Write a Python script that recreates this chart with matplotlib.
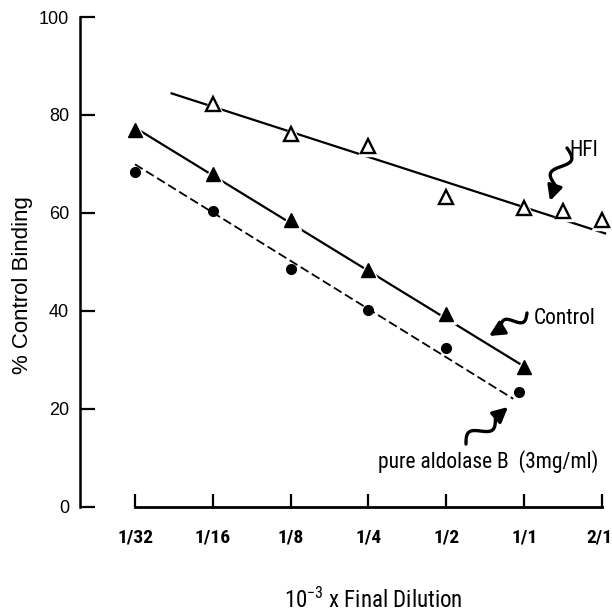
import numpy as np
import matplotlib
matplotlib.use("Agg")
import matplotlib.pyplot as plt
from matplotlib import font_manager
from matplotlib.font_manager import FontProperties
from matplotlib.patches import FancyArrowPatch
from matplotlib.path import Path
from matplotlib.transforms import Affine2D, ScaledTranslation

# ---------------- data (x in log2 of dilution: 1/32 -> -5 ... 2/1 -> 1) -------------
tick_pos = [-5, -4, -3, -2, -1, 0, 1]
tick_labels = ["1/32", "1/16", "1/8", "1/4", "1/2", "1/1", "2/1"]

hfi_x = [-4, -3, -2, -1, 0, 0.5, 1]
hfi_y = [82.3, 76.2, 73.7, 63.3, 61.0, 60.3, 58.5]
hfi_fit_x = [-4.53, 1.04]
hfi_fit_y = [84.4, 55.8]

control_x = [-5, -4, -3, -2, -1, 0]
control_y = [77.0, 68.0, 58.6, 48.3, 39.4, 28.5]
control_fit_x = [-5, 0]
control_fit_y = [77.4, 28.6]

aldo_x = [-5, -4, -3, -2, -1, -0.07]
aldo_y = [68.4, 60.3, 48.6, 40.2, 32.4, 23.4]
aldo_fit_x = [-5, -0.14]
aldo_fit_y = [69.9, 22.0]

yticks = [0, 20, 40, 60, 80, 100]

# ---------------- fonts -----------------------------------------------------
names = {f.name for f in font_manager.fontManager.ttflist}
REG = "Liberation Sans" if "Liberation Sans" in names else "DejaVu Sans"
plt.rcParams["font.family"] = [REG, "DejaVu Sans"]


def find_cond(bold):
    prefs = ["RobotoCondensed", "Roboto_Condensed", "OpenSans_Condensed",
             "OpenSansCondensed", "LiberationSansNarrow", "DejaVuSansCondensed"]
    files = [f.fname for f in font_manager.fontManager.ttflist]
    for p in prefs:
        cands = [fn for fn in files if p.lower() in fn.replace("-", "").replace(" ", "").lower()
                 or p.lower() in fn.lower()]
        cands = [c for c in cands if "italic" not in c.lower() and "oblique" not in c.lower()]
        if not cands:
            continue
        if bold:
            b = [c for c in cands if "bold" in c.lower() and "semi" not in c.lower()
                 and "extra" not in c.lower()]
            if b:
                return FontProperties(fname=b[0])
        else:
            r = [c for c in cands if "regular" in c.lower() or
                 c.lower().endswith("condensed.ttf") or c.lower().endswith("narrow.ttf")]
            if r:
                return FontProperties(fname=r[0])
            m = [c for c in cands if "medium" in c.lower()]
            if m:
                return FontProperties(fname=m[0])
    return FontProperties(family="DejaVu Sans", stretch="condensed",
                          weight="bold" if bold else "normal")


COND = find_cond(False)
COND_B = find_cond(True)

W, H, DPI = 612, 615, 100
fig = plt.figure(figsize=(W / DPI, H / DPI), dpi=DPI)

# axes placement in pixels
x_left_px, x_unit_px = 80.0, 77.83          # y-axis spine at x=80, 1/32 at 135
x0_px = 135.0
xmin = -5 - (x0_px - x_left_px) / x_unit_px
xmax = 1.12
right_px = x0_px + (xmax + 5) * x_unit_px
y0_px, y100_px = 506.5, 17.0
ax = fig.add_axes([x_left_px / W, (H - y0_px) / H,
                   (right_px - x_left_px) / W, (y0_px - y100_px) / H])
ax.set_xlim(xmin, xmax)
ax.set_ylim(0, 100)

for s in ["top", "right"]:
    ax.spines[s].set_visible(False)
ax.spines["left"].set_linewidth(1.8)
ax.spines["bottom"].set_linewidth(2.0)
ax.spines["bottom"].set_bounds(-5, 1)
ax.spines["left"].set_bounds(0, 100)

ax.set_yticks(yticks)
ax.set_yticklabels([str(v) for v in yticks], fontsize=13, family=REG)
ax.tick_params(axis="y", direction="in", length=11, width=1.6, pad=8)
ax.set_xticks(tick_pos)
ax.set_xticklabels(tick_labels)
for lab in ax.get_xticklabels():
    lab.set_fontproperties(COND_B)
    lab.set_fontsize(14)
ax.tick_params(axis="x", direction="in", length=9.5, width=1.6, pad=16)
last = ax.get_xticklabels()[-1]
last.set_transform(last.get_transform() + ScaledTranslation(-3 / DPI, 0, fig.dpi_scale_trans))

# ---------------- lines ------------------------------------------------------
ax.plot(hfi_fit_x, hfi_fit_y, color="black", lw=1.6, zorder=2, clip_on=False)
ax.plot(control_fit_x, control_fit_y, color="black", lw=1.6, zorder=2, clip_on=False)
ax.plot(aldo_fit_x, aldo_fit_y, color="black", lw=1.3, ls=(0, (5, 2.2)), zorder=2,
        clip_on=False)

# white halos (gaps in lines around markers)
ax.plot(hfi_x, hfi_y, ls="none", marker="^", ms=14, mfc="white", mec="white",
        zorder=3, clip_on=False)
ax.plot(control_x, control_y, ls="none", marker="^", ms=15, mfc="white", mec="white",
        zorder=3, clip_on=False)

# markers
ax.plot(hfi_x, hfi_y, ls="none", marker="^", ms=9.5, mfc="white", mec="black", mew=1.7,
        zorder=4, clip_on=False)
ax.plot(control_x, control_y, ls="none", marker="^", ms=10, mfc="black", mec="black",
        zorder=4, clip_on=False)
ax.plot(aldo_x, aldo_y, ls="none", marker="o", ms=7, mfc="black", mec="black",
        zorder=4, clip_on=False)

# ---------------- labels -----------------------------------------------------
fig.text(23 / W, 1 - 285 / H, "% Control Binding", rotation=90, ha="center",
         va="center", fontsize=16, family=REG)
xl = fig.text(373 / W, 1 - 600 / H, r"$\mathregular{10^{-3}}$ x Final Dilution",
              ha="center", va="center", fontproperties=COND)
xl.set_fontsize(16.5)

def ctext(x, y, s, ha="left"):
    t = fig.text(x / W, 1 - y / H, s, ha=ha, va="center", fontproperties=COND)
    t.set_fontsize(15.5)
    return t

ctext(569, 150, "HFI")
ctext(534, 318, "Control")
ctext(378, 462, "pure aldolase B  (3mg/ml)")

# ---------------- squiggly arrows ------------------------------------------
pix = Affine2D().scale(1.0 / DPI) + fig.dpi_scale_trans


def squiggle(p0, p1, amp=6.0, waves=1.0, frac=0.7):
    p0 = np.array([p0[0], H - p0[1]], float)
    p1 = np.array([p1[0], H - p1[1]], float)
    d = p1 - p0
    L = np.hypot(*d)
    u = d / L
    n = np.array([-u[1], u[0]])
    t = np.linspace(0, frac, 40)
    pts = [p0 + u * (ti * L) + n * amp * np.sin(2 * np.pi * waves * ti / frac)
           for ti in t]
    pts.append(p1)
    path = Path(np.array(pts))
    arr = FancyArrowPatch(path=path, arrowstyle="-|>,head_length=9,head_width=4.5",
                          lw=2.4, color="black", transform=pix)
    fig.add_artist(arr)


squiggle((567, 148), (550, 201), amp=8)
squiggle((527, 313), (489, 336), amp=6)
squiggle((466, 444), (508, 407), amp=7)

fig.savefig("out.png", dpi=DPI)
